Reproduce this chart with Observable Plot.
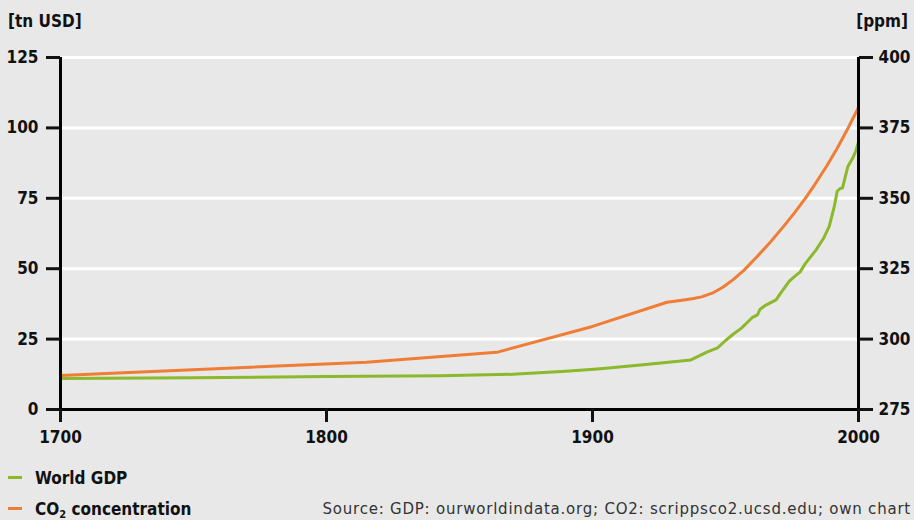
<!DOCTYPE html>
<html>
<head>
<meta charset="utf-8">
<script src="https://cdn.jsdelivr.net/npm/d3@7"></script>
<script src="https://cdn.jsdelivr.net/npm/@observablehq/plot@0.6"></script>
<style>
  html, body { margin: 0; padding: 0; }
  body { background: #e8e8e8; width: 914px; height: 520px; position: relative; overflow: hidden;
         font-family: "DejaVu Sans Condensed", "DejaVu Sans", sans-serif; font-stretch: condensed; }
  #chart { position: absolute; left: 0; top: 0; }
  .t { position: absolute; line-height: 20px; font-size: 17px; font-weight: bold; color: #111; white-space: nowrap; }
  .sw { position: absolute; width: 14px; height: 3px; }
  .src { position: absolute; right: 3px; top: 499px; line-height: 20px; font-size: 15px; color: #333; white-space: nowrap;
         font-family: "DejaVu Sans", sans-serif; font-stretch: normal; letter-spacing: 0.78px; }
</style>
</head>
<body>
<div id="chart"></div>
<div class="t" style="left:8px;top:11px">[tn USD]</div>
<div class="t" style="right:6px;top:11px">[ppm]</div>
<div class="sw" style="left:8px;top:476px;background:#8cb82b"></div>
<div class="t" style="left:35px;top:468px">World GDP</div>
<div class="sw" style="left:8px;top:507px;background:#ef7d35"></div>
<div class="t" style="left:35px;top:499px">CO<sub style="font-size:11px;vertical-align:-3px">2</sub> concentration</div>
<div class="src">Source: GDP: ourworldindata.org; CO2: scrippsco2.ucsd.edu; own chart</div>
<script>
// World GDP (trillion USD)
const gdpYears = [1700,1750,1800,1843,1870,1890,1903,1920,1937,1943,1947,1950,1953,1956,1960,1962,1963,1965,1969,1971,1974,1976,1978,1980,1984,1987,1989,1991,1992,1993,1994,1996,1998,1999,2000];
const gdpValues = [11.0,11.3,11.7,12.0,12.5,13.6,14.5,16.0,17.6,20.4,21.9,24.5,26.8,28.9,32.6,33.6,35.6,37.0,38.9,41.7,45.6,47.3,48.8,51.8,56.6,61.0,65.0,72.5,77.5,78.4,78.7,86.3,89.6,91.8,95.0];
// CO2 concentration (ppm)
const co2Years = [1700,1815,1864,1900,1928,1933,1938,1941,1945,1949,1953,1957,1962,1967,1972,1976,1980,1984,1988,1992,1996,2000];
const co2Values = [287.1,291.8,295.3,304.5,313.1,313.7,314.4,315.0,316.3,318.4,321.2,324.5,329.4,334.6,340.2,344.9,350.0,355.5,361.4,367.8,374.8,382.3];
// Axis ticks
const xTicks = [1700,1800,1900,2000];
const gdpTicks = [0,25,50,75,100,125];
const ppmBase = 275;

const gdp = gdpYears.map((y,i) => ({year: y, value: gdpValues[i]}));
const co2 = co2Years.map((y,i) => ({year: y, value: co2Values[i]}));

const green = "#8cb82b", orange = "#ef7d35";

const chart = Plot.plot({
  width: 914,
  height: 460,
  marginTop: 57,
  marginBottom: 51,
  marginLeft: 60,
  marginRight: 56,
  style: {background: "transparent", fontFamily: '"DejaVu Sans Condensed", "DejaVu Sans", sans-serif', fontSize: "17px", fontWeight: "bold", color: "#111"},
  x: {domain: [1700, 2000]},
  y: {domain: [0, 125]},
  marks: [
    Plot.gridY(gdpTicks.filter(d => d > 0), {stroke: "white", strokeOpacity: 1, strokeWidth: 3}),
    Plot.lineY(gdp, {x: "year", y: "value", stroke: green, strokeWidth: 3}),
    Plot.lineY(co2, {x: "year", y: d => d.value - ppmBase, stroke: orange, strokeWidth: 3}),
    Plot.ruleY([0], {stroke: "black", strokeWidth: 3}),
    Plot.ruleX([1700, 2000], {y1: 0, y2: 125, stroke: "black", strokeWidth: 3}),
    Plot.axisX({ticks: xTicks, tickFormat: d => String(d), tickSize: 13, tickPadding: 8, strokeWidth: 3, label: null}),
    Plot.axisY({anchor: "left", ticks: gdpTicks, tickSize: 14, tickPadding: 8, strokeWidth: 3, label: null}),
    Plot.axisY({anchor: "right", ticks: gdpTicks, tickFormat: d => String(d + ppmBase), tickSize: 14, tickPadding: 6, strokeWidth: 3, label: null})
  ]
});
document.getElementById("chart").appendChild(chart);
</script>
</body>
</html>
